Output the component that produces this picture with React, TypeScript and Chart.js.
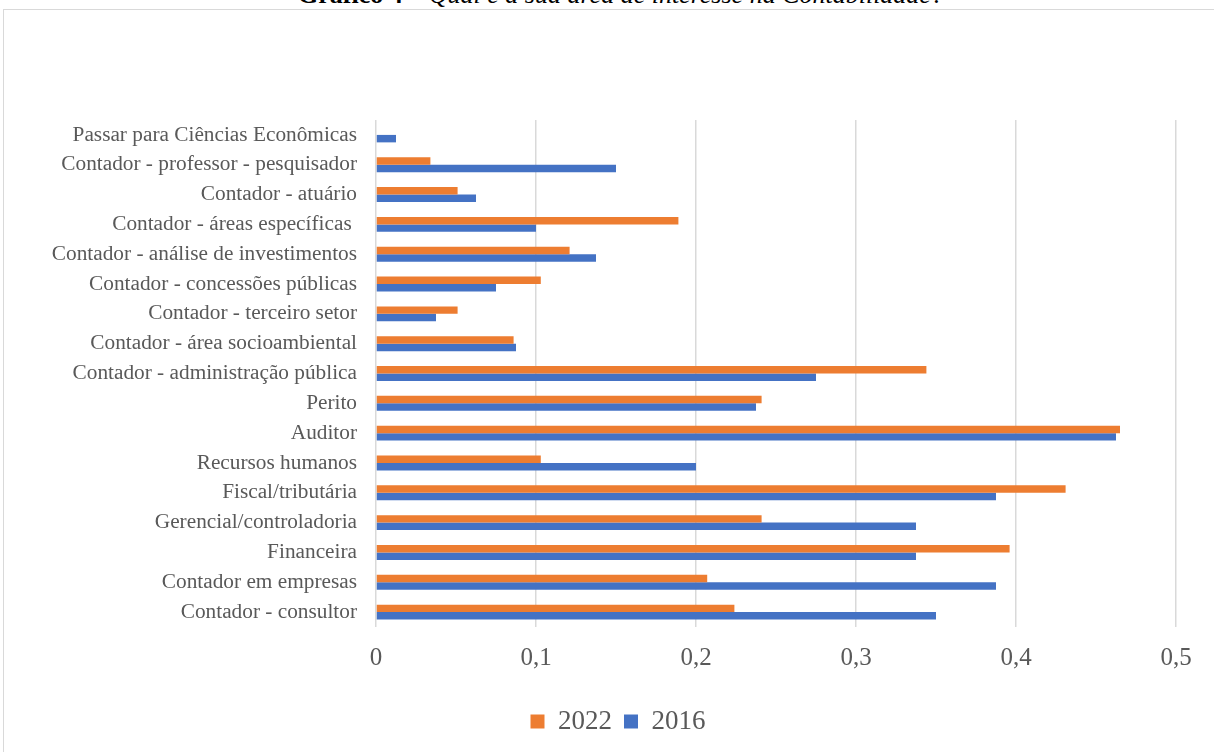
import React, { useEffect, useRef } from "react";
import { Chart, registerables } from "chart.js";

Chart.register(...registerables);

const categories = [
  "Passar para Ciências Econômicas",
  "Contador - professor - pesquisador",
  "Contador - atuário",
  "Contador - áreas específicas ",
  "Contador - análise de investimentos",
  "Contador - concessões públicas",
  "Contador - terceiro setor",
  "Contador - área socioambiental",
  "Contador - administração pública",
  "Perito",
  "Auditor",
  "Recursos humanos",
  "Fiscal/tributária",
  "Gerencial/controladoria",
  "Financeira",
  "Contador em empresas",
  "Contador - consultor",
];

const values2022 = [0, 0.034, 0.051, 0.189, 0.121, 0.103, 0.051, 0.086, 0.344, 0.241, 0.465, 0.103, 0.431, 0.241, 0.396, 0.207, 0.224];
const values2016 = [0.0125, 0.15, 0.0625, 0.1, 0.1375, 0.075, 0.0375, 0.0875, 0.275, 0.2375, 0.4625, 0.2, 0.3875, 0.3375, 0.3375, 0.3875, 0.35];

const tickLabels = ["0", "0,1", "0,2", "0,3", "0,4", "0,5"];
const seriesNames = ["2022", "2016"];

const FONT = "'Liberation Serif', 'Times New Roman', serif";

const shiftLegend = {
  id: "shiftLegend",
  afterLayout(chart: any) {
    if (chart.legend) {
      chart.legend.left += 30;
      chart.legend.right += 30;
    }
  },
};

export default function App() {
  const ref = useRef<HTMLCanvasElement | null>(null);

  useEffect(() => {
    if (!ref.current) return;
    const chart = new Chart(ref.current, {
      type: "bar",
      data: {
        labels: categories,
        datasets: [
          {
            label: seriesNames[0],
            data: values2022,
            backgroundColor: "#ED7D31",
            categoryPercentage: 0.5,
            barPercentage: 1.0,
          },
          {
            label: seriesNames[1],
            data: values2016,
            backgroundColor: "#4472C4",
            categoryPercentage: 0.5,
            barPercentage: 1.0,
          },
        ],
      },
      plugins: [shiftLegend],
      options: {
        indexAxis: "y",
        responsive: false,
        animation: false,
        layout: { padding: { top: 120, right: 38, bottom: 7, left: 0 } },
        scales: {
          x: {
            min: 0,
            max: 0.5,
            ticks: {
              stepSize: 0.1,
              padding: 16,
              color: "#595959",
              font: { family: FONT, size: 25 },
              callback: (_v: any, i: number) => tickLabels[i],
            },
            grid: { color: "#D9D9D9", lineWidth: 1.5, drawTicks: false },
            border: { display: false },
            afterFit: (s: any) => {
              s.height = 69;
            },
          },
          y: {
            ticks: {
              padding: 19,
              color: "#595959",
              font: { family: FONT, size: 21.3 },
              autoSkip: false,
            },
            grid: { display: false, drawTicks: false },
            border: { display: false },
            afterFit: (s: any) => {
              s.width = 376;
            },
          },
        },
        plugins: {
          legend: {
            position: "bottom",
            labels: {
              color: "#595959",
              font: { family: FONT, size: 27 },
              boxWidth: 14,
              boxHeight: 14,
              padding: 12,
            },
          },
          tooltip: { enabled: false },
        },
      },
    });
    return () => chart.destroy();
  }, []);

  return (
    <div style={{ position: "fixed", left: 0, top: 0, width: 1214, height: 752, background: "#fff", overflow: "hidden" }}>
      <div
        style={{
          position: "absolute",
          top: -18,
          left: 0,
          width: 1242,
          textAlign: "center",
          fontFamily: FONT,
          fontSize: 26,
          lineHeight: "26px",
          color: "#000",
          whiteSpace: "nowrap",
        }}
      >
        <b>Gráfico 4 –</b> <i>Qual é a sua área de interesse na Contabilidade?</i>
      </div>
      <div
        style={{
          position: "absolute",
          left: 3,
          top: 9,
          width: 1230,
          height: 760,
          border: "1px solid #D9D9D9",
          boxSizing: "border-box",
        }}
      />
      <canvas ref={ref} width={1214} height={752} style={{ position: "absolute", left: 0, top: 0 }} />
    </div>
  );
}
